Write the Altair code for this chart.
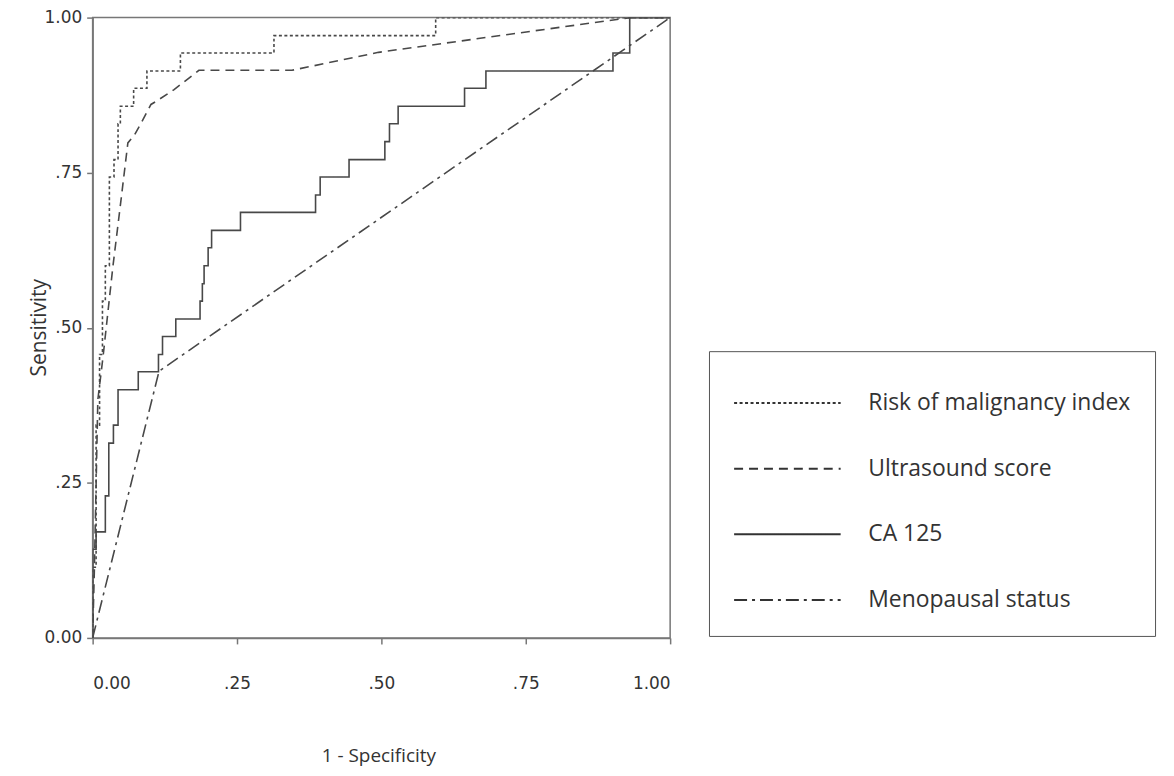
import altair as alt
import pandas as pd

# Series names (legend order)
series_names = ["Risk of malignancy index", "Ultrasound score", "CA 125", "Menopausal status"]

# Risk of malignancy index (step ROC)
rmi_x = [0, 0, 0.006, 0.006, 0.012, 0.012, 0.017, 0.017, 0.022, 0.022, 0.029, 0.029,
         0.037, 0.037, 0.044, 0.044, 0.048, 0.048, 0.071, 0.071, 0.094, 0.094,
         0.152, 0.152, 0.314, 0.314, 0.594, 0.594, 1.0]
rmi_y = [0, 0.114, 0.114, 0.343, 0.343, 0.457, 0.457, 0.543, 0.543, 0.600, 0.600, 0.743,
         0.743, 0.771, 0.771, 0.829, 0.829, 0.857, 0.857, 0.886, 0.886, 0.914,
         0.914, 0.943, 0.943, 0.971, 0.971, 1.0, 1.0]

# Ultrasound score
us_x = [0, 0.003, 0.009, 0.018, 0.035, 0.049, 0.061, 0.072, 0.084, 0.101, 0.110, 0.141,
        0.184, 0.345, 0.495, 0.931, 1.0]
us_y = [0, 0.110, 0.384, 0.453, 0.598, 0.705, 0.798, 0.810, 0.830, 0.860, 0.865, 0.884,
        0.915, 0.915, 0.944, 1.0, 1.0]

# CA 125 (step ROC)
ca_x = [0, 0, 0.006, 0.006, 0.022, 0.022, 0.028, 0.028, 0.036, 0.036, 0.044, 0.044,
        0.079, 0.079, 0.114, 0.114, 0.121, 0.121, 0.144, 0.144, 0.186, 0.186, 0.190,
        0.190, 0.193, 0.193, 0.200, 0.200, 0.206, 0.206, 0.256, 0.256, 0.266, 0.266,
        0.386, 0.386, 0.394, 0.394, 0.444, 0.444, 0.506, 0.506, 0.514, 0.514, 0.529,
        0.529, 0.644, 0.644, 0.681, 0.681, 0.901, 0.901, 0.930, 0.930, 1.0]
ca_y = [0, 0.143, 0.143, 0.171, 0.171, 0.229, 0.229, 0.314, 0.314, 0.343, 0.343, 0.400,
        0.400, 0.429, 0.429, 0.457, 0.457, 0.486, 0.486, 0.514, 0.514, 0.543, 0.543,
        0.571, 0.571, 0.600, 0.600, 0.629, 0.629, 0.657, 0.657, 0.686, 0.686, 0.686,
        0.686, 0.714, 0.714, 0.743, 0.743, 0.771, 0.771, 0.800, 0.800, 0.829, 0.829,
        0.857, 0.857, 0.886, 0.886, 0.914, 0.914, 0.943, 0.943, 1.0, 1.0]

# Menopausal status
meno_x = [0, 0.115, 1.0]
meno_y = [0, 0.430, 1.0]

# Tick values
tick_values = [0, 0.25, 0.5, 0.75, 1.0]

rows = []
for name, xs, ys in [(series_names[0], rmi_x, rmi_y), (series_names[1], us_x, us_y),
                     (series_names[2], ca_x, ca_y), (series_names[3], meno_x, meno_y)]:
    for i, (a, b) in enumerate(zip(xs, ys)):
        rows.append({"series": name, "x": a, "y": b, "i": i})
df = pd.DataFrame(rows)

label_expr = ("datum.value > 0 && datum.value < 1 ? substring(format(datum.value, '.2f'), 1)"
              " : format(datum.value, '.2f')")

chart = alt.Chart(df).mark_line(color="#484848", strokeWidth=1.6, clip=True).encode(
    x=alt.X("x:Q", scale=alt.Scale(domain=[0, 1], nice=False),
            axis=alt.Axis(title="1 - Specificity", values=tick_values, labelExpr=label_expr,
                          labelPadding=32, titleX=287, titleY=118, titleBaseline="middle",
                          titleAlign="center", titleFontSize=19)),
    y=alt.Y("y:Q", scale=alt.Scale(domain=[0, 1], nice=False),
            axis=alt.Axis(title="Sensitivity", values=tick_values, labelExpr=label_expr,
                          labelPadding=5, titleX=-53, titleY=311, titleBaseline="middle",
                          titleAlign="center", titleAngle=270, titleFontSize=21)),
    strokeDash=alt.StrokeDash("series:N",
                              scale=alt.Scale(domain=series_names,
                                              range=[[3, 2.5], [9, 6], [1, 0], [13, 5, 3, 5]]),
                              sort=series_names,
                              legend=alt.Legend(title=None, orient="none", legendX=619, legendY=335,
                                                symbolType="M-1,0H3", symbolSize=2862,
                                                symbolStrokeWidth=2, symbolStrokeColor="#333333",
                                                labelFont="Open Sans", labelFontSize=23,
                                                labelColor="#333333", labelOffset=80,
                                                labelLimit=400, rowPadding=26, padding=24,
                                                strokeColor="#555555", fillColor="white")),
    order="i:Q",
).properties(
    width=580, height=623,
    autosize=alt.AutoSizeParams(type="none"),
    padding={"left": 85, "top": 8, "right": 498, "bottom": 129},
).configure_view(
    stroke="#777777", strokeWidth=1.5
).configure_axis(
    grid=False, domainColor="#777777", domainWidth=1.5, tickColor="#777777", tickSize=6,
    tickWidth=1.5, labelFont="DejaVu Sans", labelFontSize=17, labelColor="#333333",
    titleFont="Open Sans", titleFontWeight="normal", titleColor="#333333"
)

chart.save("out.html", embed_options={"renderer": "svg", "actions": False})
